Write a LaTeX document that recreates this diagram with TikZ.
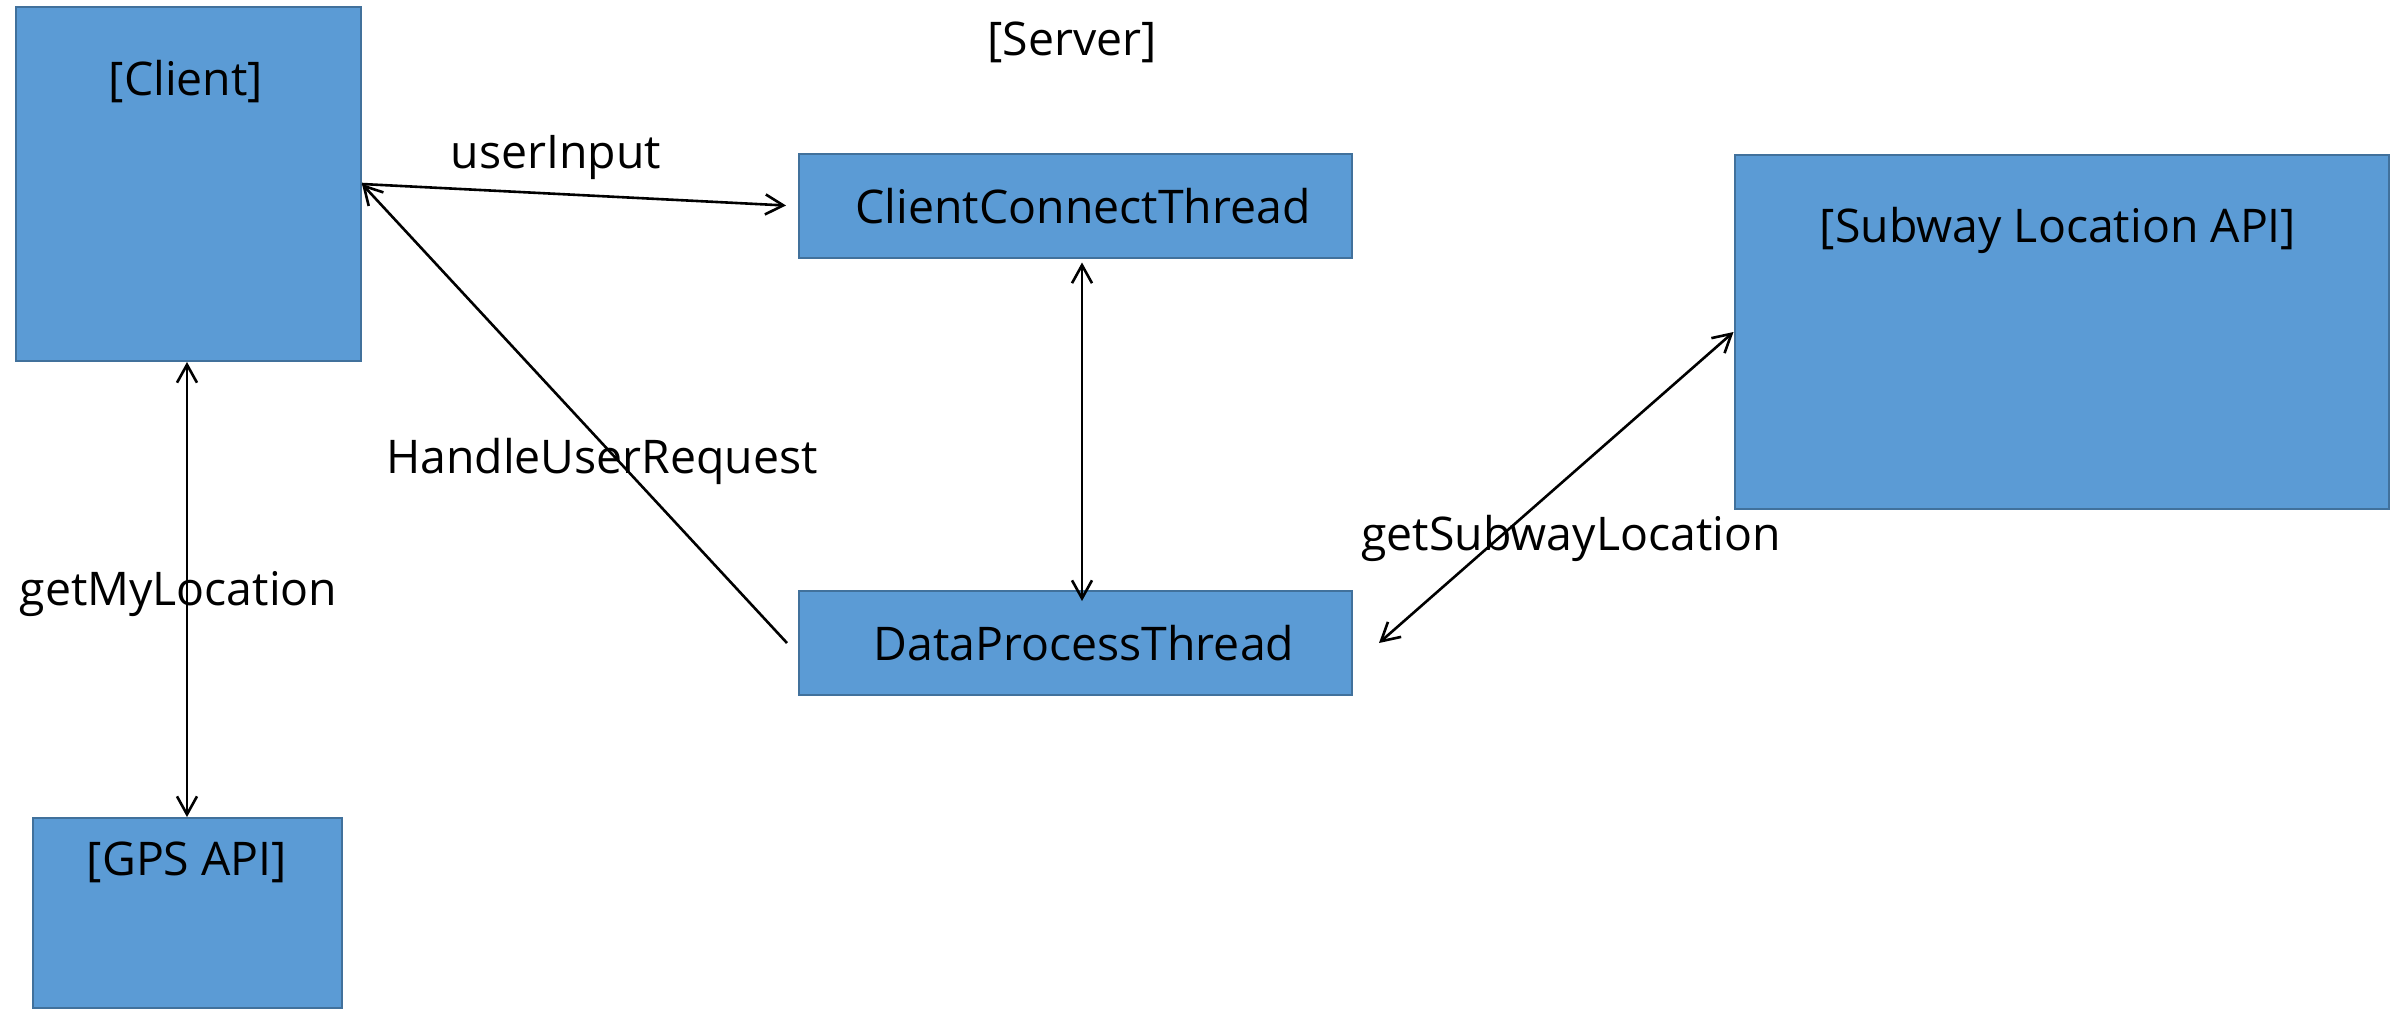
\documentclass[tikz,border=0pt]{standalone}
\usepackage{fontspec}
\setmainfont{Open Sans}
\usetikzlibrary{arrows.meta}
\definecolor{boxfill}{HTML}{5B9BD5}
\definecolor{boxborder}{HTML}{41719C}
\tikzset{
  box/.style={draw=boxborder, fill=boxfill, line width=1pt, inner sep=0pt},
  lbl/.style={anchor=base, inner sep=0pt, font=\fontsize{23.2}{28}\selectfont},
  conn/.style={line width=1.3pt, black},
  tip/.tip={Straight Barb[length=9pt,width=10pt]}
}
\begin{document}
\begin{tikzpicture}[x=0.5pt,y=-0.5pt]
\useasboundingbox (0,0) rectangle (2390,1009);
\fill[white] (0,0) rectangle (2390,1009);
% boxes
\node[box, minimum width=172.5pt, minimum height=177pt] (client) at (188.5,184) {};
\node[box, minimum width=276.5pt, minimum height=52pt] (cct) at (1075.5,205.5) {};
\node[box, minimum width=276.5pt, minimum height=52pt] (dpt) at (1075.5,643) {};
\node[box, minimum width=327pt, minimum height=177pt] (subway) at (2061.5,332) {};
\node[box, minimum width=154.5pt, minimum height=95pt] (gps) at (187.5,913) {};
% box texts
\node[lbl] (clientlbl) at (186,95) {[Client]};
\node[lbl] (serverlbl) at (1072,55) {[Server]};
\node[lbl] (cctlbl) at (1083,223) {ClientConnectThread};
\node[lbl] (dptlbl) at (1084,660) {DataProcessThread};
\node[lbl] (subwaylbl) at (2058,242) {[Subway Location API]};
\node[lbl] (gpslbl) at (187,875) {[GPS API]};
% connectors
\draw[conn, -tip] (client.east) -- ([xshift=-6pt]cct.west);
\draw[conn, -tip] ([xshift=-5.5pt]dpt.west) -- (client.east);
\draw[conn, tip-tip] ([xshift=3.25pt,yshift=-2pt]cct.south) -- ([xshift=3.25pt,yshift=-5.5pt]dpt.north);
\draw[conn, tip-tip] ([xshift=13pt]dpt.east) -- (subway.west);
\draw[conn, tip-tip] ([xshift=-0.75pt]client.south) -- ([xshift=-0.25pt]gps.north);
% connector labels
\node[lbl] (uilbl) at (556,168) {userInput};
\node[lbl] (hurlbl) at (602,473) {HandleUserRequest};
\node[lbl] (gmllbl) at (178.5,605) {getMyLocation};
\node[lbl] (gsllbl) at (1571,550) {getSubwayLocation};
\end{tikzpicture}
\end{document}
